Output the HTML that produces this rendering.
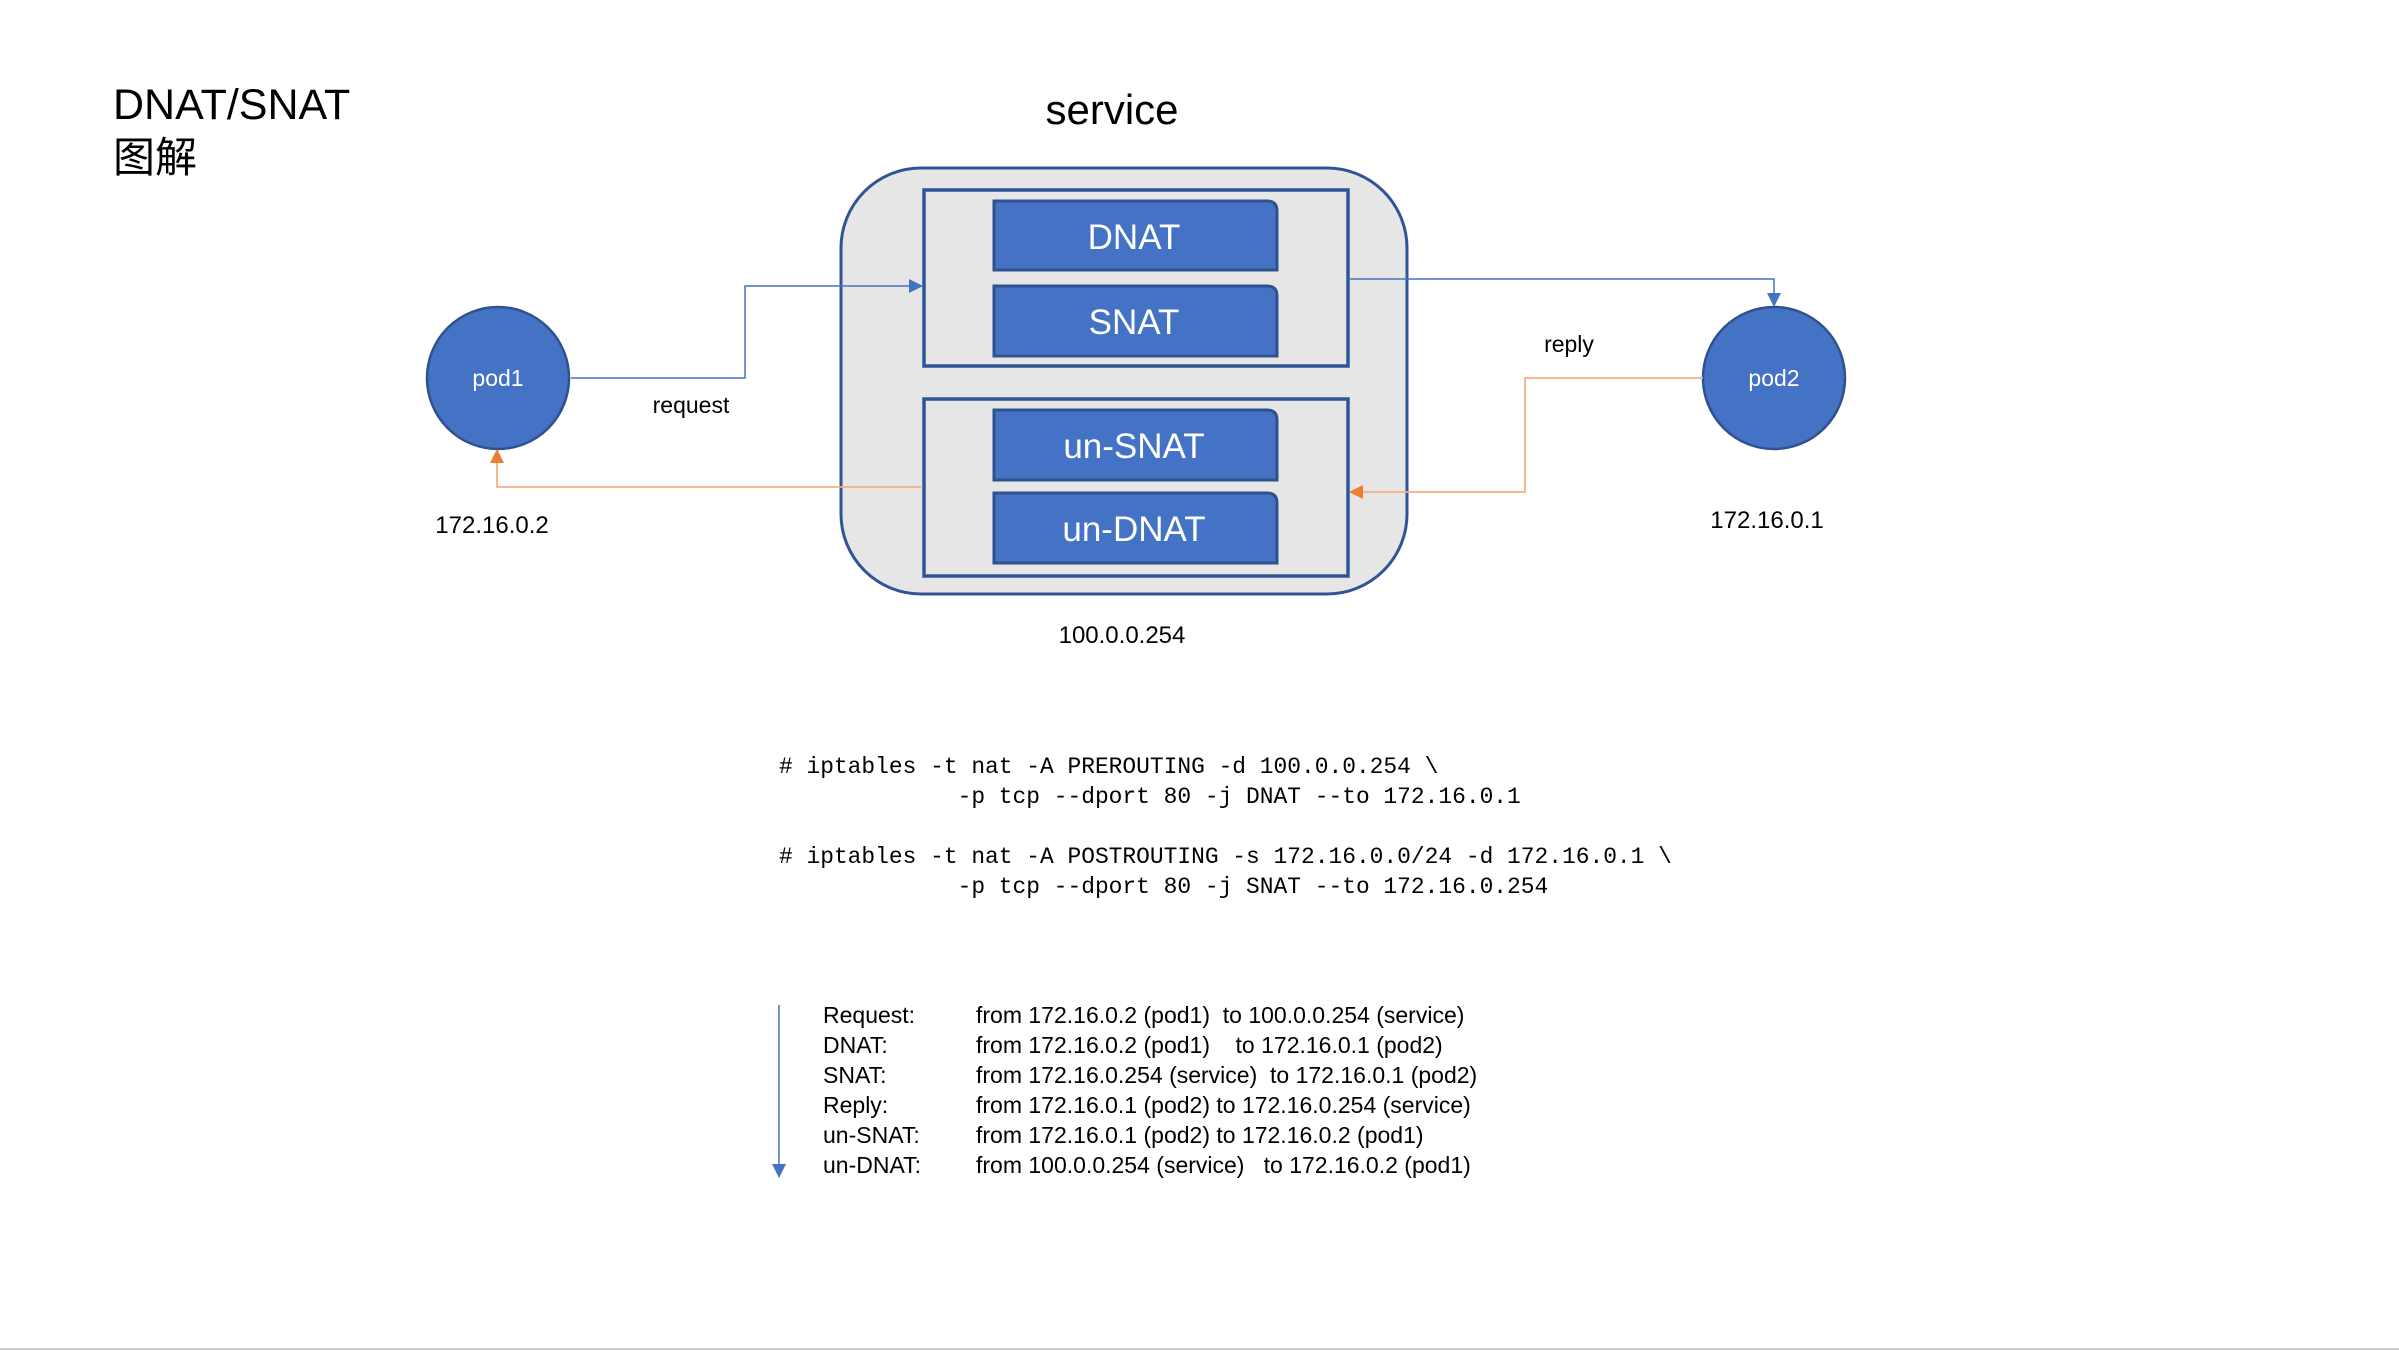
<!DOCTYPE html>
<html><head><meta charset="utf-8"><style>
html,body{margin:0;padding:0;background:#fff;}
svg{display:block;}
text{white-space:pre;}
</style></head><body>
<svg width="2399" height="1351" viewBox="0 0 2399 1351" xmlns="http://www.w3.org/2000/svg">
<defs>
<marker id="ab" markerWidth="14" markerHeight="14" refX="13" refY="7" orient="auto" markerUnits="userSpaceOnUse" viewBox="0 0 14 14"><path d="M0,0 L14,7 L0,14 z" fill="#4472C4"/></marker>
<marker id="ao" markerWidth="14" markerHeight="14" refX="13" refY="7" orient="auto" markerUnits="userSpaceOnUse" viewBox="0 0 14 14"><path d="M0,0 L14,7 L0,14 z" fill="#ED7D31"/></marker>
</defs>
<g font-family="Liberation Sans, Noto Sans CJK SC, sans-serif">
<text x="113" y="119" font-size="43" fill="#000">DNAT/SNAT</text>
<text x="113" y="172" font-size="42" fill="#000" font-family="Noto Sans CJK SC, sans-serif">图解</text>
<text x="1112" y="124" font-size="42" fill="#000" text-anchor="middle">service</text>

<rect x="841" y="168" width="566" height="426" rx="80" ry="80" fill="#E6E6E6" stroke="#2F5597" stroke-width="3"/>
<rect x="924" y="190" width="424" height="176" fill="#E6E6E6" stroke="#2F5597" stroke-width="3.5"/>
<rect x="924" y="399" width="424" height="177" fill="#E6E6E6" stroke="#2F5597" stroke-width="3.5"/>

<g fill="#4472C4" stroke="#2F528F" stroke-width="3">
<path d="M994,201 H1267 Q1277,201 1277,211 V270 H994 Z"/>
<path d="M994,286 H1267 Q1277,286 1277,296 V356 H994 Z"/>
<path d="M994,410 H1267 Q1277,410 1277,420 V480 H994 Z"/>
<path d="M994,493 H1267 Q1277,493 1277,503 V563 H994 Z"/>
</g>
<g fill="#fff" font-size="35" text-anchor="middle">
<text x="1134" y="249">DNAT</text>
<text x="1134" y="334">SNAT</text>
<text x="1134" y="458">un-SNAT</text>
<text x="1134" y="541">un-DNAT</text>
</g>

<circle cx="498" cy="378" r="71" fill="#4472C4" stroke="#2F528F" stroke-width="2.5"/>
<circle cx="1774" cy="378" r="71" fill="#4472C4" stroke="#2F528F" stroke-width="2.5"/>
<text x="498" y="386" font-size="23" fill="#fff" text-anchor="middle">pod1</text>
<text x="1774" y="386" font-size="23" fill="#fff" text-anchor="middle">pod2</text>

<polyline points="571,378 745,378 745,286 922,286" fill="none" stroke="#4472C4" stroke-width="1.5" marker-end="url(#ab)"/>
<polyline points="1350,279 1774,279 1774,306" fill="none" stroke="#4472C4" stroke-width="1.5" marker-end="url(#ab)"/>
<polyline points="1703,378 1525,378 1525,492 1350,492" fill="none" stroke="#F4B183" stroke-width="1.8" marker-end="url(#ao)"/>
<polyline points="921,487 497,487 497,450" fill="none" stroke="#F4B183" stroke-width="1.8" marker-end="url(#ao)"/>

<text x="691" y="413" font-size="23" fill="#000" text-anchor="middle">request</text>
<text x="1569" y="352" font-size="23" fill="#000" text-anchor="middle">reply</text>
<text x="492" y="533" font-size="24" fill="#000" text-anchor="middle">172.16.0.2</text>
<text x="1767" y="528" font-size="24" fill="#000" text-anchor="middle">172.16.0.1</text>
<text x="1122" y="643" font-size="24" fill="#000" text-anchor="middle">100.0.0.254</text>
</g>

<g font-family="Liberation Mono, monospace" font-size="22.9" fill="#000">
<text x="779" y="773"># iptables -t nat -A PREROUTING -d 100.0.0.254 \</text>
<text x="779" y="803">             -p tcp --dport 80 -j DNAT --to 172.16.0.1</text>
<text x="779" y="863"># iptables -t nat -A POSTROUTING -s 172.16.0.0/24 -d 172.16.0.1 \</text>
<text x="779" y="893">             -p tcp --dport 80 -j SNAT --to 172.16.0.254</text>
</g>

<line x1="779" y1="1005" x2="779" y2="1177" stroke="#4472C4" stroke-width="1.5" marker-end="url(#ab)"/>
<g font-family="Liberation Sans, sans-serif" font-size="23" fill="#000">
<text x="823" y="1023">Request:</text><text x="976" y="1023">from 172.16.0.2 (pod1)  to 100.0.0.254 (service)</text>
<text x="823" y="1053">DNAT:</text><text x="976" y="1053">from 172.16.0.2 (pod1)    to 172.16.0.1 (pod2)</text>
<text x="823" y="1083">SNAT:</text><text x="976" y="1083">from 172.16.0.254 (service)  to 172.16.0.1 (pod2)</text>
<text x="823" y="1113">Reply:</text><text x="976" y="1113">from 172.16.0.1 (pod2) to 172.16.0.254 (service)</text>
<text x="823" y="1143">un-SNAT:</text><text x="976" y="1143">from 172.16.0.1 (pod2) to 172.16.0.2 (pod1)</text>
<text x="823" y="1173">un-DNAT:</text><text x="976" y="1173">from 100.0.0.254 (service)   to 172.16.0.2 (pod1)</text>
</g>
<line x1="0" y1="1349" x2="2399" y2="1349" stroke="#D0D0D0" stroke-width="2"/>
</svg>
</body></html>
